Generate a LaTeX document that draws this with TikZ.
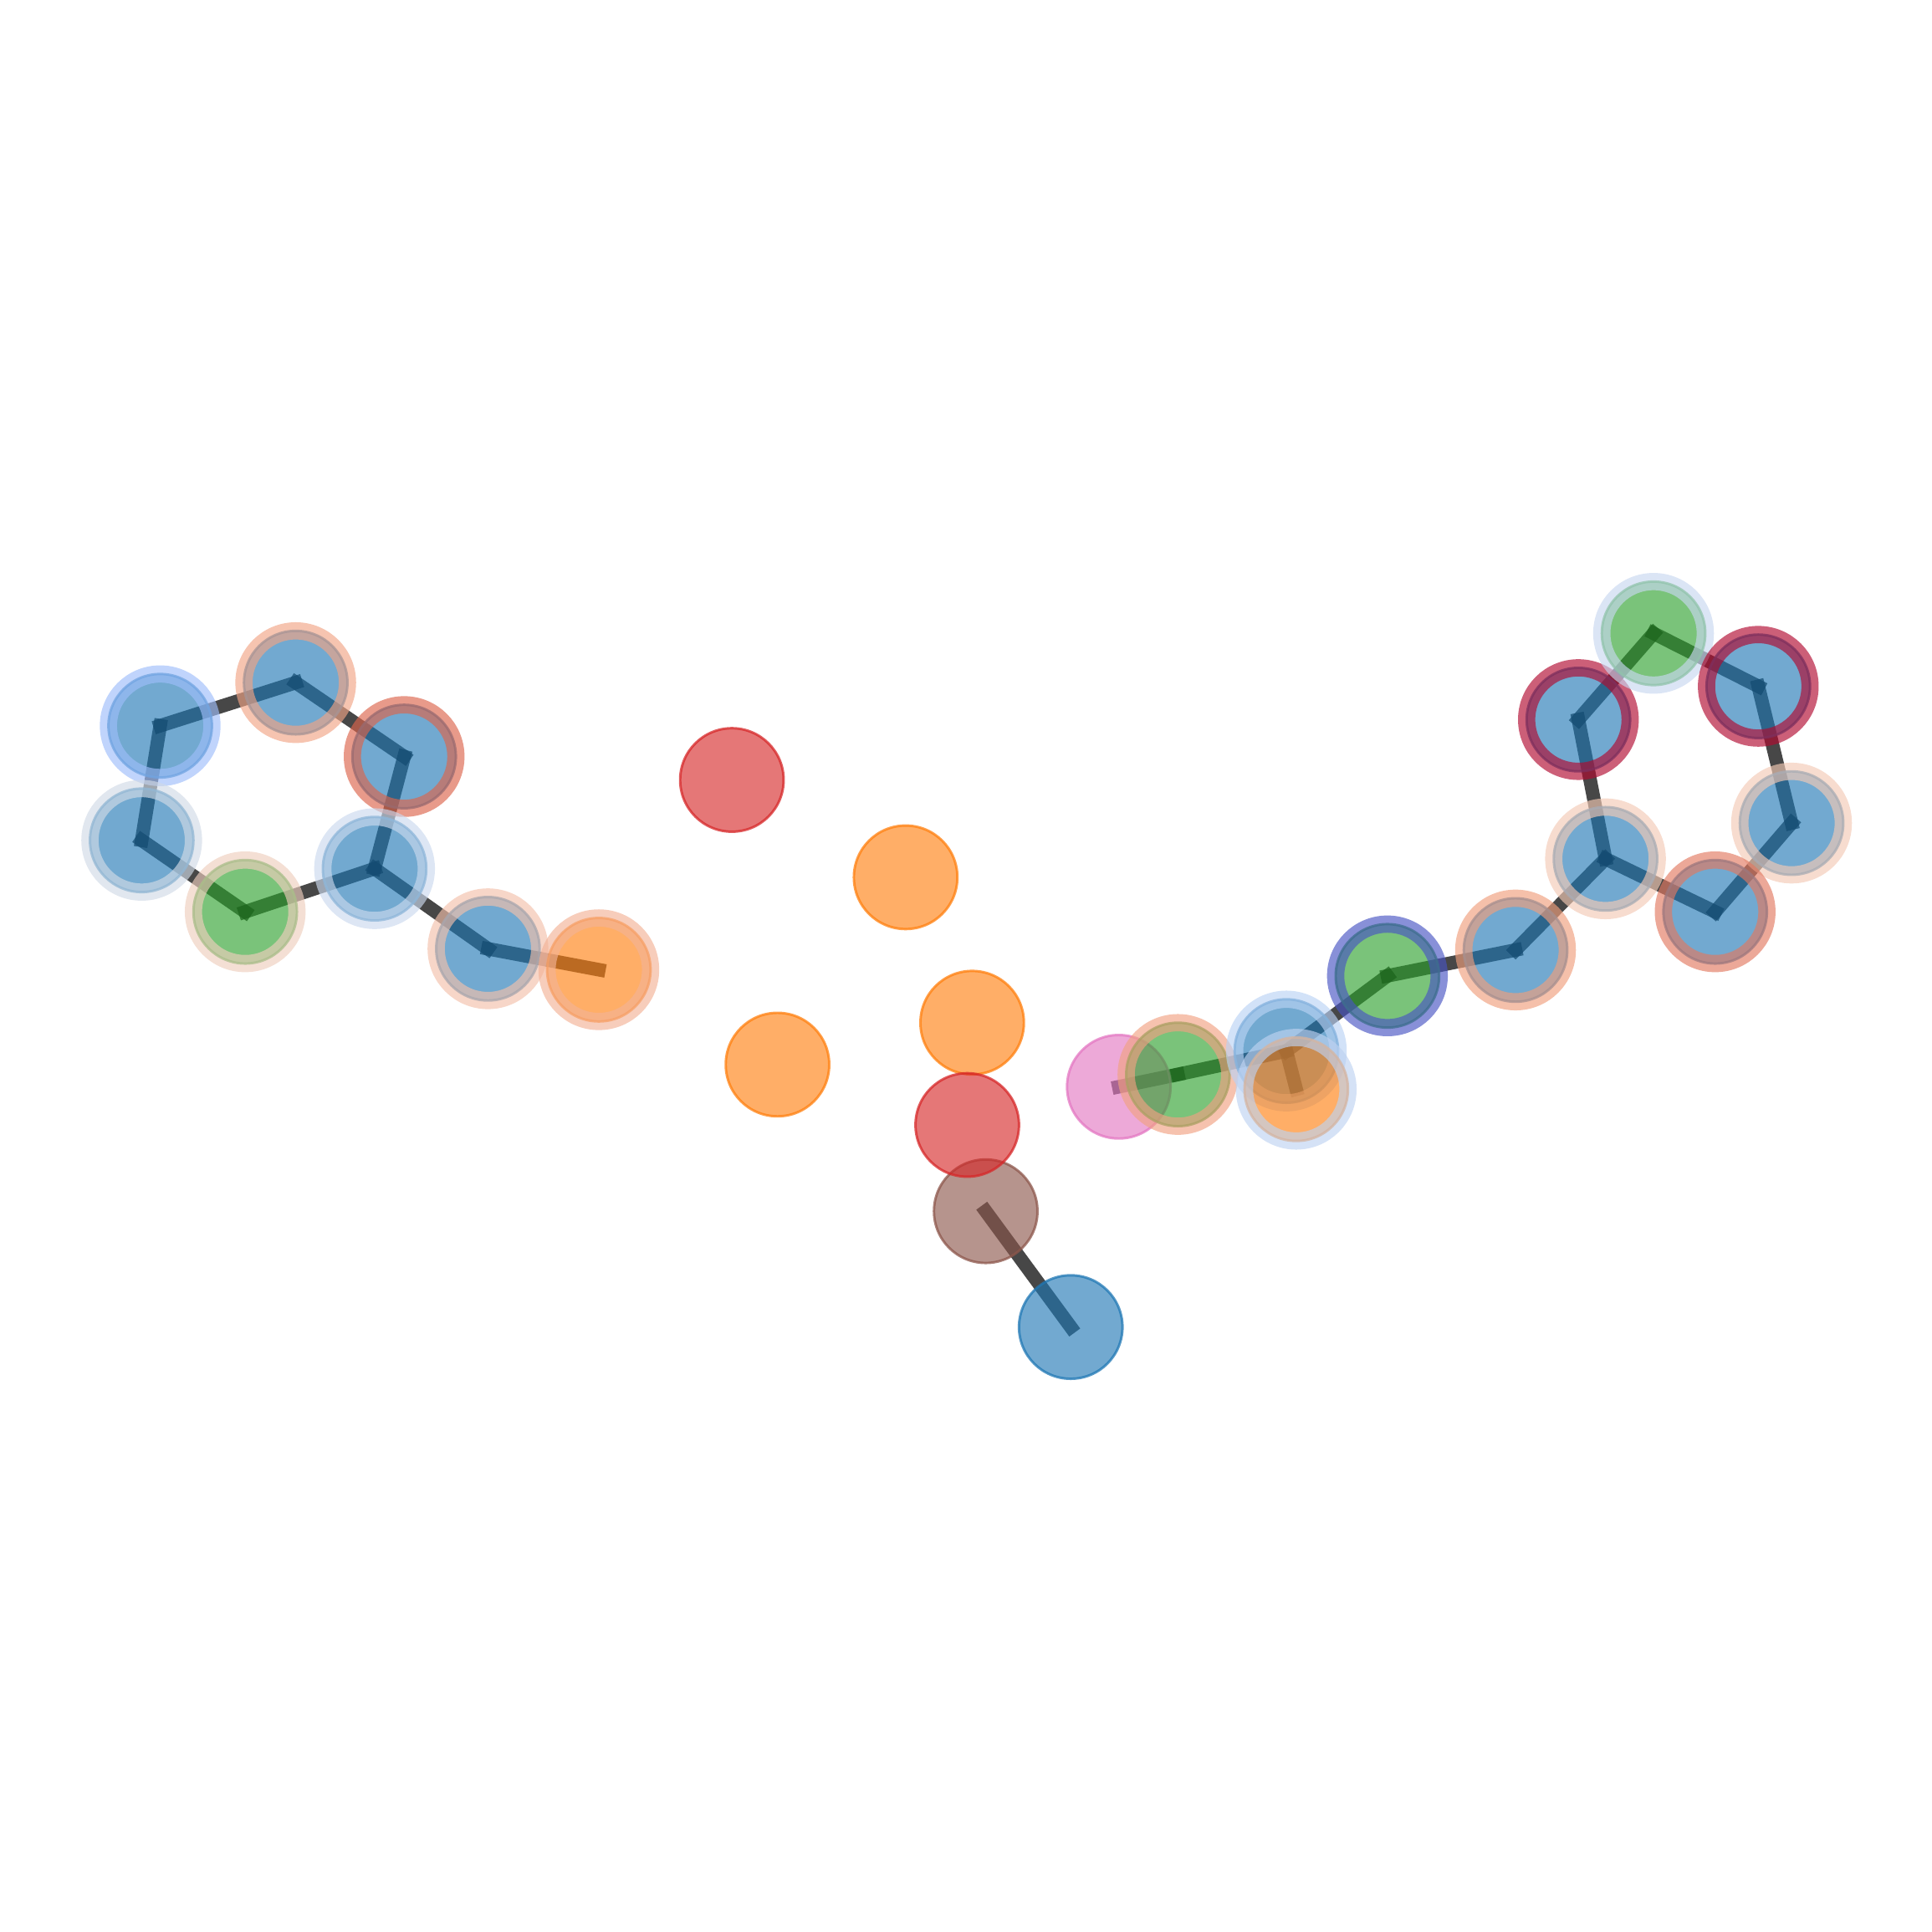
\documentclass[tikz,border=0pt]{standalone}
\definecolor{tblue}{HTML}{1F77B4}
\definecolor{torange}{HTML}{FF7F0E}
\definecolor{tgreen}{HTML}{2CA02C}
\definecolor{tred}{HTML}{D62728}
\definecolor{tbrown}{HTML}{8C564B}
\definecolor{tpink}{HTML}{E377C2}
\definecolor{hA}{HTML}{9EBDFA}
\definecolor{hB}{HTML}{F1A485}
\definecolor{hC}{HTML}{DC644B}
\definecolor{hD}{HTML}{D1DAE6}
\definecolor{hE}{HTML}{EECEBD}
\definecolor{hF}{HTML}{CBD9EE}
\definecolor{hG}{HTML}{F3C0AA}
\definecolor{hH}{HTML}{F3B296}
\definecolor{hI}{HTML}{F1A182}
\definecolor{hJ}{HTML}{BAD2F4}
\definecolor{hK}{HTML}{BED2F1}
\definecolor{hL}{HTML}{4854C3}
\definecolor{hM}{HTML}{F09E7C}
\definecolor{hN}{HTML}{F3C9B5}
\definecolor{hO}{HTML}{B1092F}
\definecolor{hP}{HTML}{C8D7F0}
\definecolor{hQ}{HTML}{E27961}
\pgfdeclarelayer{bg}
\pgfsetlayers{bg,main}
\tikzset{
  atom/.style={circle, minimum size=84pt, inner sep=0pt, outer sep=0pt,
    fill=#1, draw=#1, fill opacity=0.63, draw opacity=0.75, line width=2pt},
  halo/.style={draw=#1, draw opacity=0.65, line width=14pt},
  bond/.style={line width=11pt, draw=black, draw opacity=0.72, line cap=rect},
}
\begin{document}
\begin{tikzpicture}[x=1pt,y=-1pt]
\useasboundingbox (0,0) rectangle (1568,1568);
% left molecule
\node[atom=tblue] (L1) at (130,589) {}; \draw[halo=hA] (L1.center) circle[radius=42];
\node[atom=tblue] (L2) at (240,554) {}; \draw[halo=hB] (L2.center) circle[radius=42];
\node[atom=tblue] (L3) at (328,614) {}; \draw[halo=hC] (L3.center) circle[radius=42];
\node[atom=tblue] (L4) at (115,682) {}; \draw[halo=hD] (L4.center) circle[radius=42];
\node[atom=tgreen] (L5) at (199,740) {}; \draw[halo=hE] (L5.center) circle[radius=42];
\node[atom=tblue] (L6) at (304,705) {}; \draw[halo=hF] (L6.center) circle[radius=42];
\node[atom=tblue] (L7) at (396,770) {}; \draw[halo=hG] (L7.center) circle[radius=42];
\node[atom=torange] (L8) at (486,787) {}; \draw[halo=hH] (L8.center) circle[radius=42];
% middle
\node[atom=tred] (R1) at (594,633) {};
\node[atom=torange] (O1) at (735,712) {};
\node[atom=torange] (O2) at (789,830) {};
\node[atom=torange] (O3) at (631,864) {};
\node[atom=tbrown] (Br) at (800,983) {};
\node[atom=tred] (R2) at (785,913) {};
\node[atom=tblue] (B1) at (869,1077) {};
% right molecule
\node[atom=tpink] (P) at (908,882) {};
\node[atom=tgreen] (G1) at (956,872) {}; \draw[halo=hI] (G1.center) circle[radius=42];
\node[atom=tblue] (Bm) at (1044,853) {}; \draw[halo=hJ] (Bm.center) circle[radius=42];
\node[atom=torange] (Om) at (1052,884) {}; \draw[halo=hK] (Om.center) circle[radius=42];
\node[atom=tgreen] (G2) at (1126,792) {}; \draw[halo=hL] (G2.center) circle[radius=42];
\node[atom=tblue] (B2) at (1230,771) {}; \draw[halo=hM] (B2.center) circle[radius=42];
\node[atom=tblue] (B3) at (1303,697) {}; \draw[halo=hN] (B3.center) circle[radius=42];
\node[atom=tblue] (B4) at (1281,584) {}; \draw[halo=hO] (B4.center) circle[radius=42];
\node[atom=tgreen] (G3) at (1342,514) {}; \draw[halo=hP] (G3.center) circle[radius=42];
\node[atom=tblue] (B5) at (1427,557) {}; \draw[halo=hO] (B5.center) circle[radius=42];
\node[atom=tblue] (B6) at (1454,668) {}; \draw[halo=hN] (B6.center) circle[radius=42];
\node[atom=tblue] (B7) at (1392,740) {}; \draw[halo=hQ] (B7.center) circle[radius=42];
% bonds
\begin{pgfonlayer}{bg}
\draw[bond] (L1.center) -- (L2.center);
\draw[bond] (L2.center) -- (L3.center);
\draw[bond] (L3.center) -- (L6.center);
\draw[bond] (L1.center) -- (L4.center);
\draw[bond] (L4.center) -- (L5.center);
\draw[bond] (L5.center) -- (L6.center);
\draw[bond] (L6.center) -- (L7.center);
\draw[bond] (L7.center) -- (L8.center);
\draw[bond] (Br.center) -- (B1.center);
\draw[bond] (P.center) -- (G1.center);
\draw[bond] (G1.center) -- (Bm.center);
\draw[bond] (Bm.center) -- (Om.center);
\draw[bond] (Bm.center) -- (G2.center);
\draw[bond] (G2.center) -- (B2.center);
\draw[bond] (B2.center) -- (B3.center);
\draw[bond] (B3.center) -- (B4.center);
\draw[bond] (B4.center) -- (G3.center);
\draw[bond] (G3.center) -- (B5.center);
\draw[bond] (B5.center) -- (B6.center);
\draw[bond] (B6.center) -- (B7.center);
\draw[bond] (B7.center) -- (B3.center);
\end{pgfonlayer}
\end{tikzpicture}
\end{document}
